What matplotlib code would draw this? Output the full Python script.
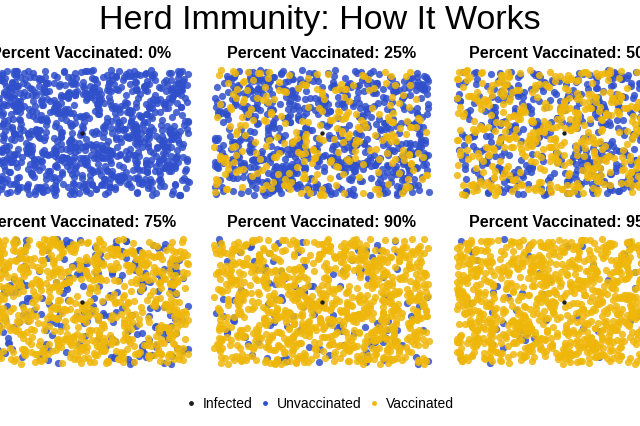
import numpy as np
import matplotlib
matplotlib.use("Agg")
import matplotlib.pyplot as plt

plt.rcParams['font.family'] = ['Liberation Sans', 'DejaVu Sans']

title = "Herd Immunity: How It Works"
percent_vaccinated = [0, 25, 50, 75, 90, 95]
n_people = 1000
categories = ["Infected", "Unvaccinated", "Vaccinated"]
colors = {"Infected": "#1e1e1e", "Unvaccinated": "#2f4fcb", "Vaccinated": "#efb70a"}

# Population layout is a simulated, seeded scatter (positions cannot be read individually)
rng = np.random.default_rng(7)

W, H = 640, 426
fig = plt.figure(figsize=(W / 100, H / 100), dpi=100)

panel_w, panel_h = 223, 133
lefts = [-30, 210, 452]
tops = [66, 235]

fig.text(0.5, 1 - 21 / H, title, ha="center", va="center", fontsize=24.5)

for i, pct in enumerate(percent_vaccinated):
    r, c = divmod(i, 3)
    ax = fig.add_axes([lefts[c] / W, 1 - (tops[r] + panel_h) / H, panel_w / W, panel_h / H])
    x = rng.uniform(0, 1, n_people)
    y = rng.uniform(0, 1, n_people)
    vacc = rng.uniform(0, 1, n_people) < pct / 100
    ax.scatter(x[~vacc], y[~vacc], s=27, color=colors["Unvaccinated"], alpha=0.85, linewidths=0)
    ax.scatter(x[vacc], y[vacc], s=27, color=colors["Vaccinated"], alpha=0.85, linewidths=0)
    ax.scatter([0.5], [0.5], s=10, color=colors["Infected"], linewidths=0, zorder=5)
    ax.set_xlim(-0.02, 1.02)
    ax.set_ylim(-0.03, 1.03)
    ax.axis("off")
    ax.set_title(f"Percent Vaccinated: {pct}%", fontsize=11.5, fontweight="bold", pad=6)

handles = [plt.Line2D([], [], marker="o", linestyle="", markersize=3.5,
                      color=colors[k], markeredgewidth=0) for k in categories]
fig.legend(handles, categories, loc="center", bbox_to_anchor=(0.5, 1 - 404 / H),
           ncol=3, frameon=False, fontsize=10, handlelength=0.8,
           handletextpad=0.45, columnspacing=0.5)

fig.savefig("out.png", dpi=100, facecolor="white")
